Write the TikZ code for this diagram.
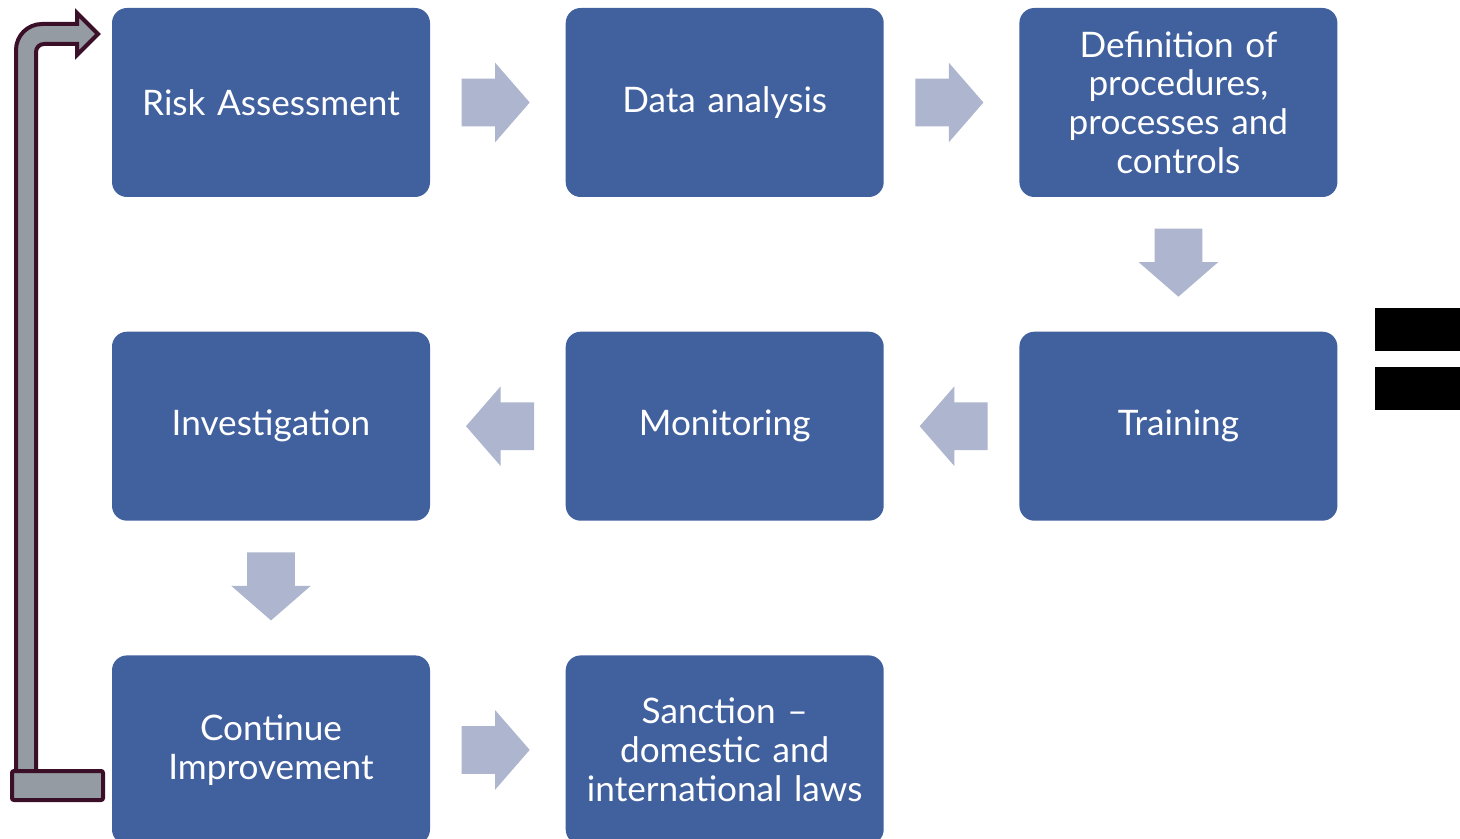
\documentclass[tikz,border=0pt]{standalone}
\usepackage{fontspec}
\setmainfont{Lato}
\usetikzlibrary{positioning,shapes.arrows,calc}
\definecolor{boxblue}{HTML}{41609E}
\definecolor{arrowgrey}{HTML}{ADB6CE}
\definecolor{loopgrey}{HTML}{959BA2}
\definecolor{loopline}{HTML}{3B0F28}
\tikzstyle{boxes} = [rectangle, rounded corners=0.3cm, minimum width=6.36cm, minimum height=3.78cm, text centered, text
width=6cm, fill=boxblue, text=white, font=\fontsize{20}{22}\selectfont]
\tikzstyle{block} = [single arrow, fill=arrowgrey, minimum height=1.36cm, inner xsep=0pt, inner ysep=0.47cm, single arrow head extend=0.32cm, single arrow tip angle=98, anchor=tail]
\tikzstyle{backarrow} = [fill=loopgrey, draw=loopline, line width=0.08cm]

\begin{document}
\begin{tikzpicture}
        \useasboundingbox (0,0) rectangle (29.2,-16.78);

        \node[boxes] (risk) at (5.42,-2.05) {Risk Assessment};
        \node[boxes, right=2.7cm of risk] (data) {Data analysis};
        \node[boxes, right=2.7cm of data] (defs) {Definition of\\procedures,\\processes and\\controls};
        \node[boxes, below=2.68cm of defs] (train) {Training};
        \node[boxes, left=2.7cm of train] (monitor) {Monitoring};
        \node[boxes, left=2.7cm of monitor] (invest) {Investigation};
        \node[boxes, below=2.68cm of invest] (improve) {Continue\\Improvement};
        \node[boxes, right=2.7cm of improve] (sanction) {Sanction –\\domestic and\\international laws};

        \node[block] (a1) at ($(risk.east)+(0.62,0)$) {};
        \node[block] (a2) at ($(data.east)+(0.62,0)$) {};
        \node[block, rotate=-90] (a3) at ($(defs.south)+(0,-0.62)$) {};
        \node[block, rotate=180] (a4) at ($(train.west)+(-0.62,0)$) {};
        \node[block, rotate=180] (a5) at ($(monitor.west)+(-0.62,0)$) {};
        \node[block, rotate=-90] (a6) at ($(invest.south)+(0,-0.62)$) {};
        \node[block] (a7) at ($(improve.east)+(0.62,0)$) {};

        \draw[backarrow] (0.32,-15.44) -- (0.32,-1.0) arc (180:90:0.52) -- (1.54,-0.48) -- (1.54,-0.26) -- (1.96,-0.68) -- (1.54,-1.10) -- (1.54,-0.88) -- (0.88,-0.88) arc (90:180:0.16) -- (0.72,-15.44) -- cycle;
        \draw[backarrow, rounded corners=0.04cm] (0.24,-15.42) rectangle (2.06,-16.0);

        \fill (27.5,-6.16) rectangle (29.2,-7.02);
        \fill (27.5,-7.34) rectangle (29.2,-8.2);

    \end{tikzpicture}
\end{document}
